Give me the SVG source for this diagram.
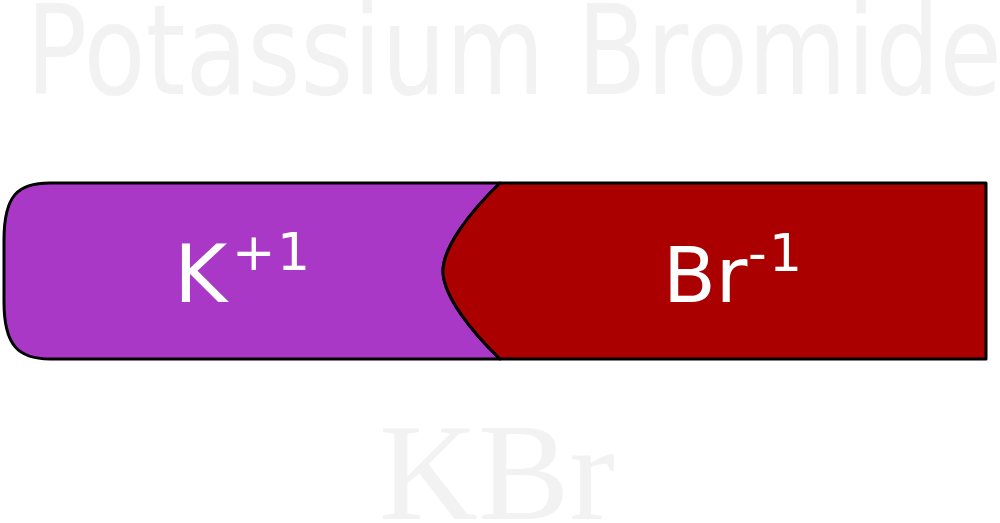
<svg xmlns="http://www.w3.org/2000/svg" width="1000" height="523" viewBox="0 0 1000 523">
<style>
.bg{fill:#f2f2f2}
.title{font-family:"DejaVu Sans","Verdana",sans-serif;font-size:124px}
.formula{font-family:"Liberation Serif","Times New Roman",serif;font-size:137px}
.seg{stroke:#000;stroke-width:3;stroke-linejoin:round}
.lbl{fill:#fff;font-family:"DejaVu Sans","Verdana",sans-serif}
.sup{font-size:52px}
</style>
<rect width="1000" height="523" fill="#fff"/>
<text id="title" class="title bg" x="26" y="94" textLength="976" lengthAdjust="spacingAndGlyphs">Potassium Bromide</text>
<text id="formula" class="formula bg" x="497" y="519" text-anchor="middle">KBr</text>
<g id="connectors"></g>
<g id="cation">
<path class="seg" fill="#a938c6" d="M 500 183 L 50 183 C 18 183 4 195 4 240 L 4 302 C 4 345 18 359 50 359 L 500 359 C 470 330 443 295 443 271 C 443 247 470 212 500 183 Z"/>
<text class="lbl" font-size="81" x="174" y="302">K</text>
<text class="lbl sup" x="232" y="270">+</text>
<text class="lbl sup" x="277" y="270">1</text>
</g>
<g id="anion">
<path class="seg" fill="#aa0000" d="M 500 183 L 986 183 L 986 359 L 500 359 C 470 330 443 295 443 271 C 443 247 470 212 500 183 Z"/>
<text class="lbl" font-size="77" x="663" y="302">Br</text>
<text class="lbl sup" x="748" y="271">-</text>
<text class="lbl sup" x="769" y="271">1</text>
</g>
</svg>
